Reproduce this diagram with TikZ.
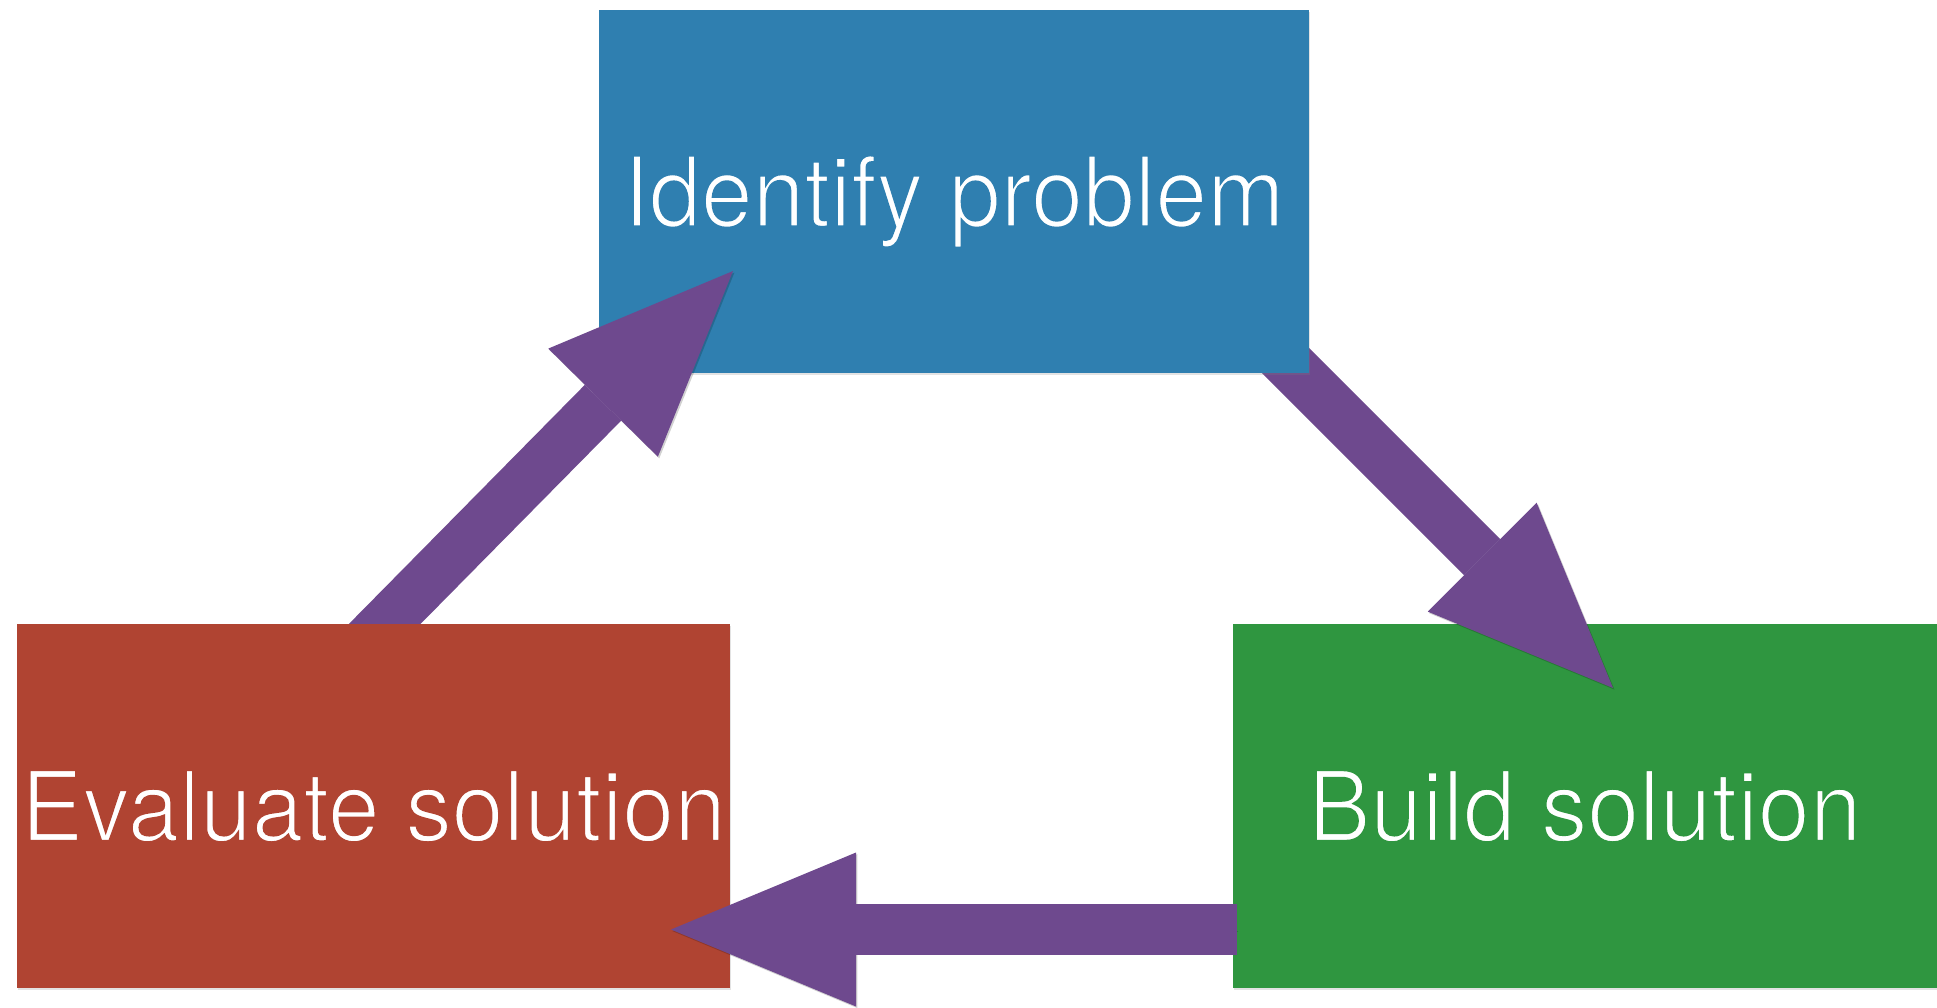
\documentclass[tikz,border=0pt]{standalone}
\usepackage{fontspec}
\setmainfont{TeX Gyre Heros}[FakeStretch=0.955]
\usetikzlibrary{arrows.meta,shadows}
\definecolor{boxblue}{RGB}{47,127,176}
\definecolor{boxred}{RGB}{176,68,50}
\definecolor{boxgreen}{RGB}{47,150,64}
\definecolor{arrowpurple}{RGB}{110,73,142}
% thin the glyphs by stroking them in the colour of the box behind
\newcommand\thinlabel[2]{\special{pdf:literal direct 2 Tr 1.2 w #1 RG}#2\special{pdf:literal direct 0 Tr}}
\begin{document}
\begin{tikzpicture}[x=0.5pt,y=-0.5pt,
  box/.style={rectangle, inner sep=0pt, outer sep=0pt, text=white,
    font=\fontsize{48.7pt}{52pt}\selectfont, text height=35pt, text depth=0pt,
    drop shadow={shadow xshift=0.6pt, shadow yshift=-1.2pt, opacity=0.22}},
  flow/.style={draw=arrowpurple, line width=25.5pt, line cap=butt,
    -{Triangle[length=92.5pt,width=77pt,line width=0pt]},
    preaction={draw=black, opacity=0.18, transform canvas={xshift=0.7pt, yshift=-0.8pt}}}]
\path[use as bounding box, fill=white] (0,0) rectangle (1937,1007);

\coordinate (t1) at (359,650);  \coordinate (h1) at (733,271);
\coordinate (t2) at (1275,350); \coordinate (h2) at (1613,688);
\coordinate (t3) at (1237,929.5); \coordinate (h3) at (671,929.5);

\node[box, fill=boxgreen, minimum width=352pt, minimum height=182pt] (build) at (1585,806) {\thinlabel{0.184 0.588 0.251}{Build solution}};
\draw[flow] (t2) -- (h2);
\node[box, fill=boxblue, minimum width=355pt, minimum height=181.5pt] (identify) at (954,191.5) {\thinlabel{0.184 0.498 0.690}{Identify problem}};
\draw[flow] (t1) -- (h1);
\node[box, fill=boxred, minimum width=356.5pt, minimum height=182pt] (evaluate) at (373.5,806) {\thinlabel{0.690 0.267 0.196}{Evaluate solution}};
\draw[flow] (t3) -- (h3);
\end{tikzpicture}
\end{document}
